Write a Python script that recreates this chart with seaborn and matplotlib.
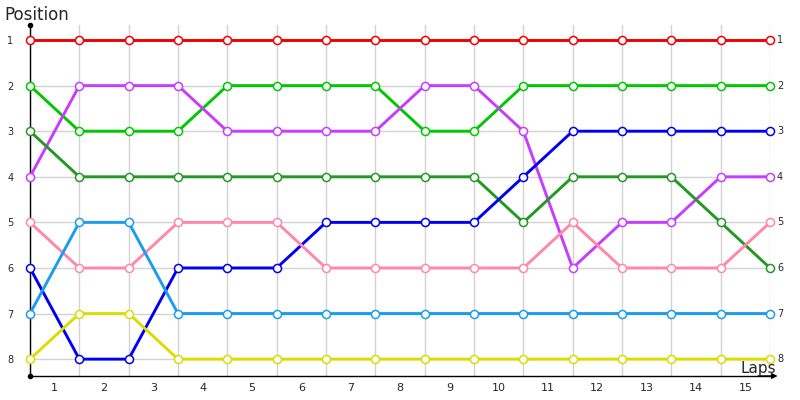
import matplotlib
matplotlib.use("Agg")
import matplotlib.pyplot as plt
import seaborn as sns
import pandas as pd

# data
laps = list(range(16))
red = [1, 1, 1, 1, 1, 1, 1, 1, 1, 1, 1, 1, 1, 1, 1, 1]
light_green = [2, 3, 3, 3, 2, 2, 2, 2, 3, 3, 2, 2, 2, 2, 2, 2]
magenta = [4, 2, 2, 2, 3, 3, 3, 3, 2, 2, 3, 6, 5, 5, 4, 4]
dark_green = [3, 4, 4, 4, 4, 4, 4, 4, 4, 4, 5, 4, 4, 4, 5, 6]
blue = [6, 8, 8, 6, 6, 6, 5, 5, 5, 5, 4, 3, 3, 3, 3, 3]
pink = [5, 6, 6, 5, 5, 5, 6, 6, 6, 6, 6, 5, 6, 6, 6, 5]
light_blue = [7, 5, 5, 7, 7, 7, 7, 7, 7, 7, 7, 7, 7, 7, 7, 7]
yellow = [8, 7, 7, 8, 8, 8, 8, 8, 8, 8, 8, 8, 8, 8, 8, 8]
lap_labels = [str(i) for i in range(1, 16)]

series = {
    "red": red, "light_green": light_green, "magenta": magenta,
    "dark_green": dark_green, "blue": blue, "pink": pink,
    "light_blue": light_blue, "yellow": yellow,
}
colors = {
    "red": "#f20000", "light_green": "#00c800", "magenta": "#c83cff",
    "dark_green": "#229922", "blue": "#0000f0", "pink": "#ff88aa",
    "light_blue": "#1a9cf0", "yellow": "#dcdc00",
}

rows = []
for name, vals in series.items():
    for lap, pos in zip(laps, vals):
        rows.append({"name": name, "lap": lap, "pos": pos})
df = pd.DataFrame(rows)

sns.set_style("white")
plt.rcParams['font.family'] = ['DejaVu Sans']

fig = plt.figure(figsize=(8, 4), dpi=100)
ax = fig.add_axes([30 / 800, 24 / 400, 740 / 800, 351 / 400])

sns.lineplot(data=df, x="lap", y="pos", hue="name", palette=colors,
             linewidth=2.1, marker="o", markersize=5.8,
             markerfacecolor="white", markeredgewidth=1.1,
             legend=False, ax=ax, clip_on=False, zorder=3)
# marker edges take the line colour
for line in ax.get_lines():
    line.set_markeredgecolor(line.get_color())

ax.set_xlim(0, 15)
ax.set_ylim(8.37, 0.67)

# grid on major ticks, labels on minor ticks
ax.set_xticks(laps)
ax.set_xticklabels([])
ax.set_xticks([i + 0.5 for i in range(15)], minor=True)
ax.set_xticklabels(lap_labels, minor=True, fontsize=8)
ax.set_yticks(range(1, 9))
ax.set_yticklabels([str(i) for i in range(1, 9)], fontsize=7)
ax.tick_params(axis="both", which="both", length=0)
ax.tick_params(axis="x", which="minor", pad=5)
ax.tick_params(axis="y", pad=12)
ax.grid(True, which="major", color="#d2d2d2", linewidth=1)
ax.set_axisbelow(True)
ax.set_xlabel("")
ax.set_ylabel("")

for s in ["top", "right"]:
    ax.spines[s].set_visible(False)
ax.spines["left"].set_color("black")
ax.spines["bottom"].set_color("black")
ax.spines["left"].set_linewidth(1)
ax.spines["bottom"].set_linewidth(1)

# end labels on the right
for name, vals in series.items():
    ax.annotate(str(vals[-1]), xy=(laps[-1], vals[-1]), xytext=(5, 0),
                textcoords="offset points", va="center", ha="left",
                fontsize=7, annotation_clip=False)

# axis arrow and dots
ax.annotate("", xy=(1.014, 0), xytext=(0.98, 0), xycoords="axes fraction",
            arrowprops=dict(arrowstyle="-|>", color="black", lw=1,
                            mutation_scale=8))
ax.plot([0], [1], marker="o", markersize=3, color="black",
        transform=ax.transAxes, clip_on=False)
ax.plot([0], [0], marker="o", markersize=3, color="black",
        transform=ax.transAxes, clip_on=False)

fig.text(4 / 800, 1 - 15 / 400, "Position", fontsize=12, va="center", ha="left")
fig.text(758 / 800, 1 - 369 / 400, "Laps", fontsize=11, va="center", ha="center")

fig.savefig("out.png", dpi=100)
